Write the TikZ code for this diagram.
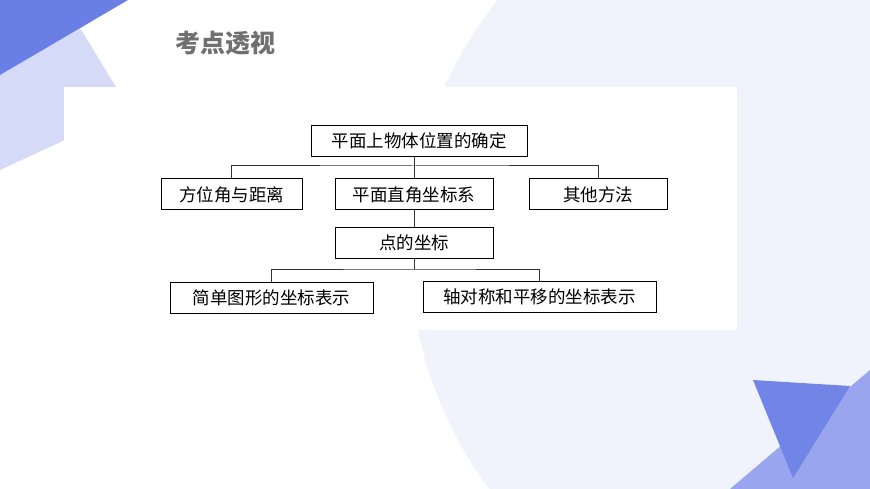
\documentclass[tikz,border=0pt]{standalone}
\usepackage{fontspec}
\newfontfamily\cjk{Noto Sans CJK SC}
\usetikzlibrary{positioning}
\definecolor{bgcircle}{HTML}{F0F3FB}
\definecolor{deepblue}{HTML}{6A7FE6}
\definecolor{paleblue}{HTML}{D5DAF6}
\definecolor{midblue}{HTML}{9AA5EF}
\definecolor{titlegray}{HTML}{707070}
\begin{document}
\begin{tikzpicture}
[x=1pt,y=-1pt,
box/.style={rectangle,draw=black,line width=1pt,minimum height=31pt,font=\cjk\fontsize{17.5}{17.5}\selectfont,inner sep=0pt},
link/.style={draw=black!80,line width=1pt}]
\useasboundingbox (0,0) rectangle (870,489);
\fill[white] (0,0) rectangle (870,489);
% background shapes
\fill[bgcircle] (810,250) circle (400);
\fill[paleblue] (0,75) -- (80,28) -- (130,110) -- (0,170) -- cycle;
\fill[deepblue] (0,0) -- (128,0) -- (0,75) -- cycle;
\fill[midblue] (730,489) -- (870,370) -- (870,489) -- cycle;
\fill[deepblue!85!midblue] (753,380) -- (850,386) -- (793,478) -- cycle;
\fill[white] (64,87) rectangle (737,330);
\node[font=\cjk\bfseries\fontsize{25}{25}\selectfont,text=titlegray,anchor=west] (title) at (172,43) {考点透视};
% boxes
\node[box,minimum width=216pt] (main) at (419,141) {平面上物体位置的确定};
\node[box,minimum width=141pt] (dir) at (231.5,194.5) {方位角与距离};
\node[box,minimum width=158pt] (rect) at (414,194.5) {平面直角坐标系};
\node[box,minimum width=138pt] (other) at (598,194.5) {其他方法};
\node[box,minimum width=158pt] (point) at (414,243) {点的坐标};
\node[box,minimum width=203pt] (shape) at (271.5,297.5) {简单图形的坐标表示};
\node[box,minimum width=233pt] (sym) at (539.5,297) {轴对称和平移的坐标表示};
% connectors
\coordinate (j1) at (414,166);
\coordinate (j2) at (414,269);
\draw[link] (main.south -| j1) -- (j1);
\draw[link] (dir.north) |- (j1) -| (other.north);
\draw[link] (j1) -- (rect.north);
\draw[link] (rect.south) -- (point.north);
\draw[link] (point.south) -- (j2);
\draw[link] (shape.north) |- (j2) -| (sym.north);
\end{tikzpicture}
\end{document}
